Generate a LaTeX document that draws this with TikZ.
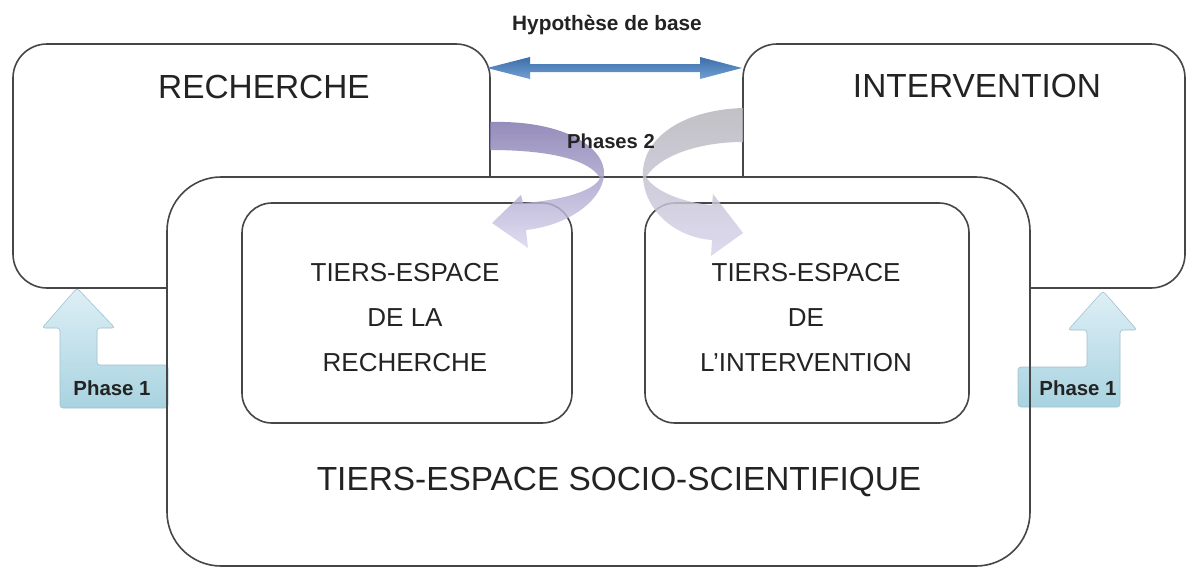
\documentclass[tikz,border=0pt]{standalone}
\usepackage{fontspec}
\setmainfont{Liberation Sans}
\definecolor{txt}{RGB}{35,35,35}
\definecolor{edge}{RGB}{70,70,70}
\definecolor{hypA}{RGB}{60,110,170}
\definecolor{hypB}{RGB}{115,160,210}
\definecolor{phA}{RGB}{222,239,246}
\definecolor{phB}{RGB}{168,211,224}
\definecolor{purA}{RGB}{125,115,172}
\definecolor{purB}{RGB}{218,214,238}
\definecolor{gryA}{RGB}{180,180,186}
\definecolor{gryB}{RGB}{214,210,236}
\tikzset{
  box/.style={draw=edge, line width=0.8pt, fill=white, rectangle, inner sep=0pt},
  bigtxt/.style={text=txt, font=\fontsize{16.7}{20}\selectfont, inner sep=0pt},
  midtxt/.style={text=txt, font=\fontsize{13}{22.5}\selectfont, align=center, inner sep=0pt},
  smalltxt/.style={text=txt, font=\bfseries\fontsize{10.2}{12}\selectfont, inner sep=0pt},
  phaseone/.style={top color=phA, bottom color=phB, draw=phB!80!gray, line width=0.3pt, rounded corners=1.5pt},
}
\begin{document}
\begin{tikzpicture}[x=0.5pt,y=-0.5pt]
\useasboundingbox (0,0) rectangle (1187,568);
\fill[white] (0,0) rectangle (1187,568);

% outer boxes
\node[box, rounded corners=17pt, minimum width=238.5pt, minimum height=122pt] (R) at (251.5,166) {};
\node[box, rounded corners=17pt, minimum width=221pt, minimum height=122pt] (I) at (964,166) {};
% big box
\node[box, rounded corners=27pt, minimum width=431.5pt, minimum height=194.5pt] (S) at (598.5,371.5) {};
% inner boxes
\node[box, rounded corners=15pt, minimum width=165pt, minimum height=110pt] (TR) at (407,313) {};
\node[box, rounded corners=15pt, minimum width=162pt, minimum height=110pt] (TI) at (807,313) {};

% texts
\node[bigtxt] (tR) at (264,87) {RECHERCHE};
\node[bigtxt] (tI) at (977,86) {INTERVENTION};
\node[bigtxt] (tS) at (619,482) {TIERS-ESPACE SOCIO-SCIENTIFIQUE};
\node[midtxt] (tTR) at (405,318) {TIERS-ESPACE\\DE LA\\RECHERCHE};
\node[midtxt] (tTI) at (806,318) {TIERS-ESPACE\\DE\\L'INTERVENTION};
\node[smalltxt, font=\bfseries\fontsize{10.4}{12}\selectfont] (hyp) at (607,25) {Hypothèse de base};

% Hypothese double arrow
\shade[top color=hypA, bottom color=hypB]
  (487,68) -- (530,57) -- (530,64) -- (700,64) -- (700,57) -- (742,68)
  -- (700,79) -- (700,72) -- (530,72) -- (530,79) -- cycle;

% Phases 2 curved arrows
\shade[top color=purA, bottom color=purB, opacity=0.82]
  (490,122) .. controls (565,120) and (606,148) .. (604,175)
  .. controls (602,200) and (570,225) .. (526,230)
  -- (528,248) -- (492,223) -- (521,195) -- (523,203)
  .. controls (565,200) and (595,190) .. (600,178)
  .. controls (590,160) and (550,150) .. (490,150) -- cycle;
\shade[top color=gryA, bottom color=gryB, opacity=0.82]
  (743,108) .. controls (680,110) and (640,140) .. (643,178)
  .. controls (646,215) and (680,238) .. (712,240)
  -- (711,256) -- (743,233) -- (713,194) -- (712,205)
  .. controls (685,203) and (655,192) .. (646,177)
  .. controls (660,155) and (700,142) .. (743,142) -- cycle;
\node[smalltxt, font=\bfseries\fontsize{10.1}{12}\selectfont] (ph2) at (611,141) {Phases 2};

% Phase 1 arrows
\path[phaseone]
  (77,288) -- (115,328) -- (97,328) -- (97,365) -- (168,365) -- (168,408)
  -- (60,408) -- (60,328) -- (42,328) -- cycle;
\draw[edge, line width=0.8pt] (167,360) -- (167,415);
\node[smalltxt] (p1L) at (112,388) {Phase 1};
\path[phaseone]
  (1103,291) -- (1137,330) -- (1120,330) -- (1120,407) -- (1018,407) -- (1018,367)
  -- (1087,367) -- (1087,330) -- (1068,330) -- cycle;
\draw[edge, line width=0.8pt] (1030,360) -- (1030,415);
\node[smalltxt] (p1R) at (1078,388) {Phase 1};
\end{tikzpicture}
\end{document}
